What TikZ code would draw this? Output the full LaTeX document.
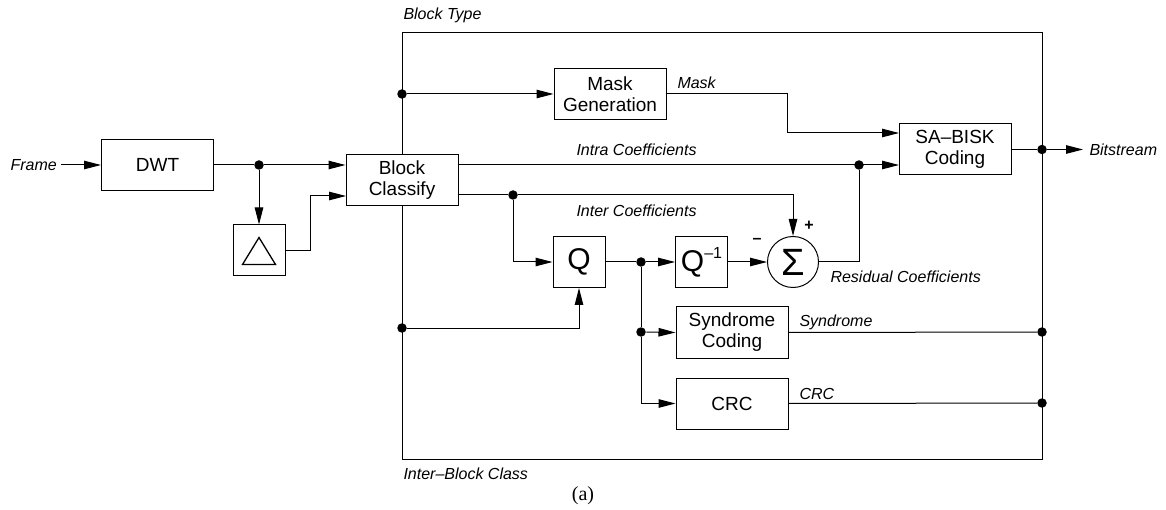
\documentclass[tikz,border=0pt]{standalone}
\usepackage{fontspec}
\setmainfont{Liberation Sans}
\newfontfamily\capfont{Liberation Serif}
\usetikzlibrary{arrows.meta, calc}
\tikzset{
    blk/.style={draw, line width=1pt, fill=white, minimum width=112pt, minimum height=51pt,
        align=center, inner sep=0pt, font=\fontsize{19}{21}\selectfont},
    sqblk/.style={blk, minimum width=52pt},
    lbl/.style={anchor=west, inner sep=0pt, font=\fontsize{16}{18}\selectfont\itshape},
    dot/.style={circle, fill, inner sep=0pt, minimum size=9.5pt},
    arr/.style={-{Triangle[length=17pt,width=8.5pt]}},
}

\begin{document}
\begin{tikzpicture}[x=1pt, y=-1pt, line width=1pt]
    \useasboundingbox (0,0) rectangle (1166,510);
    \node[draw, line width=1pt, minimum width=640pt, minimum height=426pt, inner sep=0pt] (frame) at (722,246) {};
    \node[lbl] (typelbl) at (403,15) {Block Type};
    \node[lbl] (classlbl) at (403,474) {Inter--Block Class};
    \node[inner sep=0pt, font=\capfont\fontsize{20}{22}\selectfont] (cap) at (583,496) {(a)};

    \node[lbl] (framelbl) at (10,165) {Frame};
    \node[blk] (dwt) at (157.5,165) {DWT};
    \node[sqblk] (tri) at (259,250.5) {};
    \draw[line width=1.3pt, line join=miter] ($(tri)+(0,-13)$) -- ($(tri)+(16.5,14)$) -- ($(tri)+(-16.5,14)$) -- cycle;
    \node[blk] (bc) at (402,180) {Block\\Classify};
    \node[blk] (mask) at (610,94) {Mask\\Generation};
    \node[blk] (sa) at (955,149.5) {SA--BISK\\Coding};
    \node[sqblk] (q) at (579,262) {\fontsize{30}{30}\selectfont Q};
    \node[sqblk] (qi) at (701.5,262) {\fontsize{30}{30}\selectfont Q\raisebox{13pt}{\fontsize{16}{16}\selectfont --1}};
    \node[draw, circle, minimum size=51pt, inner sep=0pt, font=\fontsize{38}{38}\selectfont] (sum) at (793,262) {\raisebox{-2pt}{Σ}};
    \node[blk] (syn) at (732,332.5) {Syndrome\\Coding};
    \node[blk] (crc) at (732,403.5) {CRC};

    \node[dot] (j1) at (259,165) {};
    \node[dot] (d1) at (402,94) {};
    \node[dot] (d2) at (402,328) {};
    \node[dot] (d3) at (513,195) {};
    \node[dot] (d4) at (859,165) {};
    \node[dot] (d5) at (641,262) {};
    \node[dot] (d6) at (641,332) {};
    \node[dot] (d7) at (1042,332) {};
    \node[dot] (d8) at (1042,403) {};
    \node[dot] (d9) at (1042,149.5) {};
    \coordinate (bcin) at (346,196);
    \coordinate (sain1) at (899,133);
    \coordinate (sain2) at (899,165);

    \node[lbl] (masklbl) at (677,83) {Mask};
    \node[lbl] (intralbl) at (576,150) {Intra Coefficients};
    \node[lbl] (interlbl) at (576,211) {Inter Coefficients};
    \node[lbl] (reslbl) at (830,277) {Residual Coefficients};
    \node[lbl] (synlbl) at (799,322) {Syndrome};
    \node[lbl] (crclbl) at (799,394) {CRC};
    \node[lbl] (bslbl) at (1089,149.5) {Bitstream};
    \node[inner sep=0pt, font=\fontsize{16}{16}\selectfont\bfseries] (minus) at (757,241) {--};
    \node[inner sep=0pt, font=\fontsize{16}{16}\selectfont\bfseries] (plus) at (809,226) {+};

    \draw[arr] ([xshift=4pt]framelbl.east) -- (dwt.west);
    \draw (dwt.east) -- (j1);
    \draw[arr] (j1) -- (j1 -| bc.west);
    \draw[arr] (j1) -- (tri.north);
    \draw[arr] (tri.east) -- ++(25,0) |- (bcin);
    \draw[arr] (d1) -- (mask.west);
    \draw[arr] (mask.east) -| ([xshift=-112pt]sain1) -- (sain1);
    \draw[arr] ([yshift=15pt]bc.east) -- (sain2);
    \draw ([yshift=-15pt]bc.east) -- (d3);
    \draw[arr] (d3) -| (sum.north);
    \draw[arr] (d3) |- (q.west);
    \draw (q.east) -- (d5);
    \draw[arr] (d5) -- (qi.west);
    \draw[arr] (qi.east) -- (sum.west);
    \draw (sum.east) -| (d4);
    \draw[arr] (d2) -| (q.south);
    \draw (d5) -- (d6);
    \draw[arr] (d6) -- (syn.west);
    \draw[arr] (d6) |- (crc.west);
    \draw (syn.east) -- (d7);
    \draw (crc.east) -- (d8);
    \draw (sa.east) -- (d9);
    \draw[arr] (d9) -- ([xshift=-6pt]bslbl.west);
\end{tikzpicture}
\end{document}
